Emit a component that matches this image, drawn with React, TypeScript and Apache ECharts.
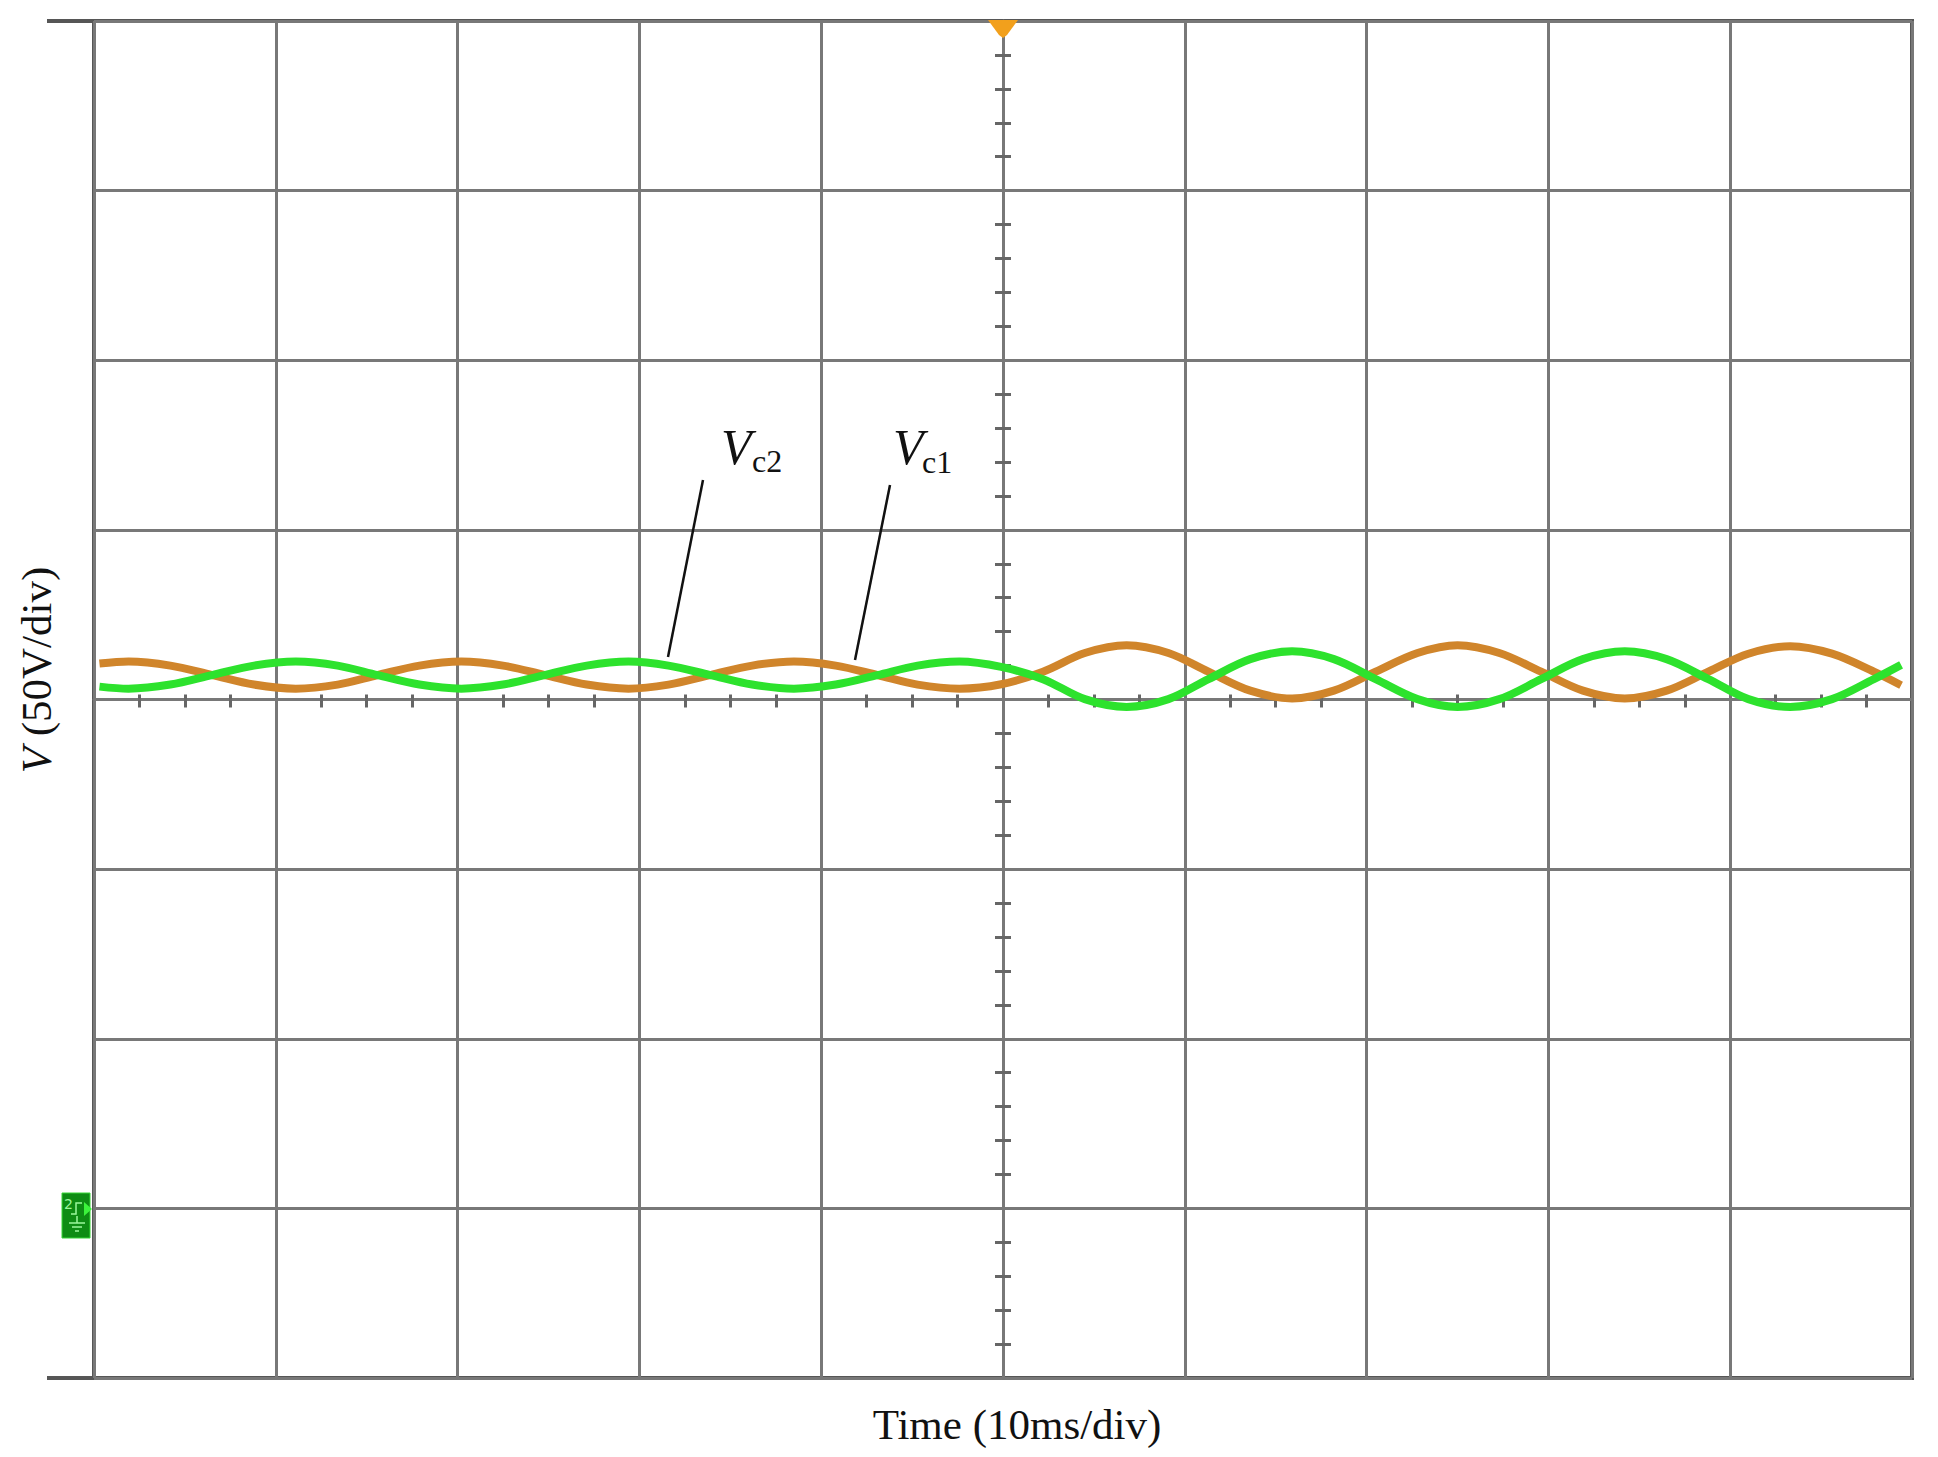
import { useEffect, useRef } from "react";
import * as echarts from "echarts";

// Time in ms (10 ms/div), voltages in V (50 V/div)
const timeMs = [
  -49.7, -48.1, -45.8, -43.5, -41.2, -38.9, -36.6, -34.4, -32.1, -29.8, -27.5,
  -25.2, -22.9, -20.6, -18.4, -16.1, -13.8, -11.5, -9.2, -6.9, -4.7, -2.4,
  -0.1, 2.2, 4.5, 6.8, 9.1, 11.3, 13.6, 15.9, 18.2, 20.5, 22.8, 25.0, 27.3,
  29.6, 31.9, 34.2, 36.5, 38.8, 41.0, 43.3, 45.6, 47.9, 49.4,
];
const vc1 = [
  10.6, 11.2, 10.0, 7.2, 4.4, 3.2, 4.4, 7.2, 10.0, 11.2, 10.0,
  7.2, 4.4, 3.2, 4.4, 7.2, 10.0, 11.2, 10.0, 7.2, 4.4, 3.2,
  4.5, 8.2, 13.7, 16.0, 13.7, 8.2, 2.6, 0.3, 2.6, 8.2, 13.7, 16.0, 13.7,
  8.2, 2.6, 0.3, 2.6, 8.2, 13.5, 15.7, 13.5, 8.2, 4.2,
];
const vc2 = [
  3.8, 3.2, 4.4, 7.2, 10.0, 11.2, 10.0, 7.2, 4.4, 3.2, 4.4,
  7.2, 10.0, 11.2, 10.0, 7.2, 4.4, 3.2, 4.4, 7.2, 10.0, 11.2,
  9.6, 6.0, 0.1, -2.2, 0.1, 6.0, 11.9, 14.2, 11.9, 6.0, 0.1, -2.2, 0.1,
  6.0, 11.9, 14.2, 11.9, 6.0, 0.1, -2.2, 0.1, 6.0, 10.2,
];

const X_MIN = -50;
const X_MAX = 50;
const X_STEP = 10;
const Y_MIN = -200;
const Y_MAX = 200;
const Y_STEP = 50;

const xTitle = "Time (10ms/div)";
const yTitleRest = " (50V/div)";

const SERIF = "'Liberation Serif', 'Times New Roman', Times, serif";
const GRID_COLOR = "#787878";
const BORDER_COLOR = "#565656";
const TICK_COLOR = "#666666";
const ORANGE = "#d0852b";
const GREEN = "#2de22d";

const W = 1938;
const H = 1457;
const G = { left: 94, right: 26, top: 21, bottom: 79 };

export default function App() {
  const ref = useRef<HTMLDivElement>(null);

  useEffect(() => {
    const el = ref.current;
    if (!el) return;
    const chart = echarts.init(el, null, { renderer: "svg" });

    const baseX = {
      type: "value" as const,
      min: X_MIN,
      max: X_MAX,
      interval: X_STEP,
      axisLabel: { show: false },
      axisTick: { show: false },
    };
    const baseY = {
      type: "value" as const,
      min: Y_MIN,
      max: Y_MAX,
      interval: Y_STEP,
      axisLabel: { show: false },
      axisTick: { show: false },
    };

    const plotBottom = H - G.bottom;
    const plotRight = W - G.right;
    const centerX = G.left + (plotRight - G.left) / 2;

    const option: any = {
      animation: false,
      backgroundColor: "#ffffff",
      grid: {
        left: G.left,
        right: G.right,
        top: G.top,
        bottom: G.bottom,
        show: true,
        borderColor: BORDER_COLOR,
        borderWidth: 4,
        backgroundColor: "transparent",
        containLabel: false,
        outerBoundsMode: "none",
      },
      xAxis: [
        {
          ...baseX,
          position: "bottom",
          axisLine: { show: true, onZero: true, lineStyle: { color: GRID_COLOR, width: 3 } },
          splitLine: { show: true, lineStyle: { color: GRID_COLOR, width: 3 } },
          minorTick: { show: true, splitNumber: 4, length: 8, lineStyle: { color: TICK_COLOR, width: 3 } },
        },
        {
          ...baseX,
          position: "top",
          axisLine: { show: false, onZero: true, onZeroAxisIndex: 0 },
          splitLine: { show: false },
          minorTick: { show: true, splitNumber: 4, length: 5, lineStyle: { color: TICK_COLOR, width: 3 } },
        },
      ],
      yAxis: [
        {
          ...baseY,
          position: "left",
          axisLine: { show: true, onZero: true, lineStyle: { color: GRID_COLOR, width: 3 } },
          splitLine: { show: true, lineStyle: { color: GRID_COLOR, width: 3 } },
          minorTick: { show: true, splitNumber: 5, length: 8, lineStyle: { color: TICK_COLOR, width: 3 } },
        },
        {
          ...baseY,
          position: "right",
          axisLine: { show: false, onZero: true, onZeroAxisIndex: 0 },
          splitLine: { show: false },
          minorTick: { show: true, splitNumber: 5, length: 8, lineStyle: { color: TICK_COLOR, width: 3 } },
        },
      ],
      series: [
        {
          name: "Vc1",
          type: "line",
          xAxisIndex: 0,
          yAxisIndex: 0,
          data: timeMs.map((t, i) => [t, vc1[i]]),
          showSymbol: false,
          smooth: 0.33,
          lineStyle: { color: ORANGE, width: 8 },
          z: 3,
        },
        {
          name: "Vc2",
          type: "line",
          xAxisIndex: 0,
          yAxisIndex: 0,
          data: timeMs.map((t, i) => [t, vc2[i]]),
          showSymbol: false,
          smooth: 0.33,
          lineStyle: { color: GREEN, width: 8 },
          z: 4,
        },
      ],
      graphic: [
        // frame extensions on the left
        { type: "line", shape: { x1: 47, y1: G.top, x2: G.left, y2: G.top }, style: { stroke: BORDER_COLOR, lineWidth: 4 } },
        { type: "line", shape: { x1: 47, y1: plotBottom, x2: G.left, y2: plotBottom }, style: { stroke: BORDER_COLOR, lineWidth: 4 } },
        // trigger marker
        {
          type: "polygon",
          shape: { points: [[centerX - 15, G.top - 1], [centerX + 15, G.top - 1], [centerX + 4, G.top + 14], [centerX, G.top + 17], [centerX - 4, G.top + 14]] },
          style: { fill: "#f2a01c" },
          z: 10,
        },
        // channel ground marker
        {
          type: "group",
          children: [
            { type: "rect", shape: { x: 62, y: 1193, width: 28, height: 45 }, style: { fill: "#0e8c14", stroke: "#36d636", lineWidth: 1 } },
            { type: "text", x: 64, y: 1204, style: { text: "2", fontSize: 14, fontFamily: "DejaVu Sans", fill: "#9cf79c", verticalAlign: "middle" } },
            { type: "polyline", shape: { points: [[71, 1214], [76, 1214], [76, 1203], [82, 1203]] }, style: { stroke: "#9cf79c", lineWidth: 1.5, fill: "none" } },
            { type: "polygon", shape: { points: [[84, 1202], [84, 1216], [92, 1209]] }, style: { fill: "#3cf23c" } },
            { type: "line", shape: { x1: 77, y1: 1216, x2: 77, y2: 1223 }, style: { stroke: "#9cf79c", lineWidth: 1.5 } },
            { type: "line", shape: { x1: 69, y1: 1223, x2: 85, y2: 1223 }, style: { stroke: "#9cf79c", lineWidth: 1.5 } },
            { type: "line", shape: { x1: 72, y1: 1227, x2: 82, y2: 1227 }, style: { stroke: "#9cf79c", lineWidth: 1.5 } },
            { type: "line", shape: { x1: 75, y1: 1231, x2: 79, y2: 1231 }, style: { stroke: "#9cf79c", lineWidth: 1.5 } },
          ],
          z: 10,
        },
        // annotation leader lines
        { type: "line", shape: { x1: 703, y1: 480, x2: 668, y2: 657 }, style: { stroke: "#111", lineWidth: 2.5 }, z: 10 },
        { type: "line", shape: { x1: 890, y1: 485, x2: 855, y2: 660 }, style: { stroke: "#111", lineWidth: 2.5 }, z: 10 },
        // annotation labels
        { type: "text", x: 721, y: 447, style: { text: "V", fontSize: 50, fontStyle: "italic", fontFamily: SERIF, fill: "#111", align: "left", verticalAlign: "middle" }, z: 10 },
        { type: "text", x: 752, y: 461, style: { text: "c2", fontSize: 32, fontFamily: SERIF, fill: "#111", align: "left", verticalAlign: "middle" }, z: 10 },
        { type: "text", x: 893, y: 447, style: { text: "V", fontSize: 50, fontStyle: "italic", fontFamily: SERIF, fill: "#111", align: "left", verticalAlign: "middle" }, z: 10 },
        { type: "text", x: 922, y: 462, style: { text: "c1", fontSize: 32, fontFamily: SERIF, fill: "#111", align: "left", verticalAlign: "middle" }, z: 10 },
        // axis titles
        { type: "text", x: 1017, y: 1424, style: { text: xTitle, fontSize: 43, fontFamily: SERIF, fill: "#111", align: "center", verticalAlign: "middle" } },
        {
          type: "text",
          x: 36,
          y: 670,
          rotation: Math.PI / 2,
          style: {
            text: "{i|V}" + yTitleRest,
            fontSize: 43,
            fontFamily: SERIF,
            fill: "#111",
            align: "center",
            verticalAlign: "middle",
            rich: { i: { fontSize: 43, fontFamily: SERIF, fontStyle: "italic", fill: "#111" } },
          },
        },
      ],
    };

    chart.setOption(option);
    return () => chart.dispose();
  }, []);

  return (
    <div
      ref={ref}
      style={{ position: "absolute", left: 0, top: 0, width: W, height: H, background: "#fff" }}
    />
  );
}
